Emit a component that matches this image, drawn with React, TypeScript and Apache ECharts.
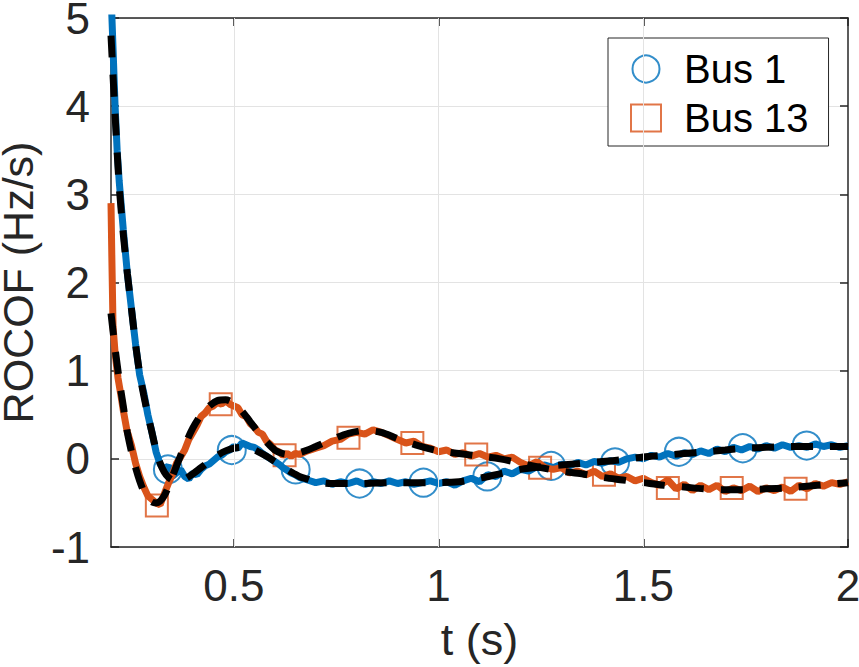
import React, { useEffect, useRef } from "react";
import * as echarts from "echarts";

// ---- data ----
const bus1X = [0.2, 0.21, 0.215, 0.22, 0.23, 0.24, 0.25, 0.26, 0.27, 0.28, 0.29, 0.3, 0.31, 0.32, 0.33, 0.34, 0.35, 0.36, 0.37, 0.38, 0.39, 0.4, 0.41, 0.42, 0.43, 0.44, 0.45, 0.46, 0.47, 0.48, 0.49, 0.5, 0.51, 0.52, 0.53, 0.54, 0.55, 0.56, 0.57, 0.58, 0.59, 0.6, 0.61, 0.62, 0.63, 0.64, 0.65, 0.66, 0.68, 0.7, 0.72, 0.74, 0.76, 0.78, 0.8, 0.82, 0.84, 0.86, 0.88, 0.9, 0.92, 0.94, 0.96, 0.98, 1.0, 1.02, 1.04, 1.06, 1.08, 1.1, 1.12, 1.14, 1.16, 1.18, 1.2, 1.22, 1.24, 1.26, 1.28, 1.3, 1.32, 1.34, 1.36, 1.38, 1.4, 1.42, 1.44, 1.46, 1.48, 1.5, 1.52, 1.54, 1.56, 1.58, 1.6, 1.62, 1.64, 1.66, 1.68, 1.7, 1.72, 1.74, 1.76, 1.78, 1.8, 1.82, 1.84, 1.86, 1.88, 1.9, 1.92, 1.94, 1.96, 1.98, 2.0];
const bus1Y = [5.3, 4.0, 3.5, 3.15, 2.6, 2.1, 1.7, 1.3, 0.95, 0.75, 0.5, 0.3, 0.08, -0.06, -0.12, -0.08, -0.2, -0.16, -0.12, -0.2, -0.23, -0.16, -0.18, -0.12, -0.08, -0.06, -0.02, 0.02, 0.04, 0.08, 0.1, 0.14, 0.12, 0.18, 0.16, 0.14, 0.13, 0.1, 0.06, 0.03, 0.0, -0.03, -0.06, -0.1, -0.13, -0.16, -0.18, -0.21, -0.24, -0.27, -0.25, -0.29, -0.26, -0.28, -0.25, -0.29, -0.26, -0.28, -0.25, -0.28, -0.26, -0.29, -0.27, -0.25, -0.28, -0.26, -0.3, -0.25, -0.22, -0.26, -0.18, -0.2, -0.14, -0.17, -0.12, -0.14, -0.09, -0.07, -0.1, -0.06, -0.08, -0.04, -0.07, -0.03, -0.05, -0.02, -0.04, 0.0, 0.02, 0.0, 0.04, 0.02, 0.06, 0.03, 0.07, 0.05, 0.09, 0.06, 0.11, 0.08, 0.13, 0.1, 0.14, 0.11, 0.15, 0.12, 0.16, 0.13, 0.15, 0.13, 0.17, 0.14, 0.16, 0.13, 0.15];

const bus13X = [0.2, 0.202, 0.205, 0.21, 0.217, 0.225, 0.23, 0.239, 0.25, 0.26, 0.27, 0.28, 0.29, 0.3, 0.31, 0.32, 0.33, 0.34, 0.35, 0.36, 0.37, 0.38, 0.39, 0.4, 0.41, 0.42, 0.43, 0.44, 0.45, 0.46, 0.47, 0.48, 0.49, 0.5, 0.51, 0.52, 0.53, 0.54, 0.55, 0.56, 0.57, 0.58, 0.59, 0.6, 0.61, 0.62, 0.63, 0.64, 0.65, 0.66, 0.68, 0.7, 0.72, 0.74, 0.76, 0.78, 0.8, 0.82, 0.84, 0.86, 0.88, 0.9, 0.92, 0.94, 0.96, 0.98, 1.0, 1.02, 1.04, 1.06, 1.08, 1.1, 1.12, 1.14, 1.16, 1.18, 1.2, 1.22, 1.24, 1.26, 1.28, 1.3, 1.32, 1.34, 1.36, 1.38, 1.4, 1.42, 1.44, 1.46, 1.48, 1.5, 1.52, 1.54, 1.56, 1.58, 1.6, 1.62, 1.64, 1.66, 1.68, 1.7, 1.72, 1.74, 1.76, 1.78, 1.8, 1.82, 1.84, 1.86, 1.88, 1.9, 1.92, 1.94, 1.96, 1.98, 2.0];
const bus13Y = [2.9, 2.3, 1.5, 1.2, 0.92, 0.7, 0.55, 0.32, 0.15, -0.05, -0.2, -0.32, -0.42, -0.46, -0.5, -0.52, -0.4, -0.28, -0.18, -0.05, 0.02, 0.1, 0.22, 0.3, 0.38, 0.48, 0.52, 0.58, 0.6, 0.64, 0.62, 0.66, 0.62, 0.6, 0.58, 0.5, 0.48, 0.4, 0.36, 0.3, 0.28, 0.2, 0.16, 0.1, 0.08, 0.04, 0.06, 0.03, 0.06, 0.05, 0.09, 0.12, 0.15, 0.2, 0.22, 0.28, 0.3, 0.28, 0.33, 0.3, 0.26, 0.22, 0.18, 0.2, 0.14, 0.12, 0.08, 0.1, 0.05, 0.07, 0.03, 0.06, 0.02, 0.04, 0.0, 0.02, -0.04, -0.08, -0.03, -0.1, -0.12, -0.1, -0.16, -0.14, -0.18, -0.14, -0.2, -0.17, -0.22, -0.2, -0.25, -0.22, -0.27, -0.3, -0.24, -0.34, -0.29, -0.36, -0.3, -0.35, -0.3, -0.37, -0.33, -0.36, -0.31, -0.37, -0.33, -0.36, -0.32, -0.37, -0.3, -0.34, -0.28, -0.31, -0.27, -0.29, -0.26];

const fit1X = [0.2, 0.21, 0.22, 0.23, 0.24, 0.25, 0.26, 0.27, 0.28, 0.29, 0.3, 0.31, 0.32, 0.33, 0.34, 0.35, 0.36, 0.38, 0.4, 0.42, 0.44, 0.46, 0.48, 0.5, 0.52, 0.54, 0.56, 0.58, 0.6, 0.62, 0.64, 0.66, 0.68, 0.7, 0.74, 0.8, 0.9, 1.0, 1.05, 1.1, 1.15, 1.2, 1.25, 1.3, 1.35, 1.4, 1.45, 1.5, 1.55, 1.6, 1.65, 1.7, 1.75, 1.8, 1.85, 1.9, 1.95, 2.0];
const fit1Y = [4.8, 3.9, 3.1, 2.55, 2.1, 1.7, 1.3, 0.97, 0.72, 0.5, 0.3, 0.1, -0.05, -0.15, -0.21, -0.24, -0.25, -0.23, -0.17, -0.1, -0.03, 0.04, 0.09, 0.12, 0.13, 0.12, 0.08, 0.03, -0.03, -0.09, -0.15, -0.2, -0.23, -0.26, -0.28, -0.28, -0.27, -0.27, -0.26, -0.22, -0.17, -0.12, -0.09, -0.07, -0.05, -0.03, -0.01, 0.02, 0.04, 0.06, 0.08, 0.1, 0.12, 0.13, 0.14, 0.14, 0.14, 0.14];

const fit13X = [0.2, 0.21, 0.22, 0.23, 0.24, 0.25, 0.26, 0.27, 0.28, 0.29, 0.3, 0.31, 0.32, 0.33, 0.34, 0.35, 0.36, 0.38, 0.4, 0.42, 0.44, 0.46, 0.48, 0.5, 0.52, 0.54, 0.56, 0.58, 0.6, 0.62, 0.64, 0.66, 0.68, 0.7, 0.74, 0.78, 0.82, 0.86, 0.9, 0.95, 1.0, 1.05, 1.1, 1.15, 1.2, 1.25, 1.3, 1.35, 1.4, 1.45, 1.5, 1.55, 1.6, 1.65, 1.7, 1.75, 1.8, 1.85, 1.9, 1.95, 2.0];
const fit13Y = [1.65, 1.25, 0.9, 0.6, 0.3, 0.08, -0.1, -0.25, -0.37, -0.45, -0.49, -0.5, -0.48, -0.42, -0.32, -0.2, -0.08, 0.15, 0.35, 0.5, 0.6, 0.66, 0.67, 0.63, 0.54, 0.42, 0.3, 0.19, 0.1, 0.06, 0.05, 0.07, 0.1, 0.14, 0.22, 0.29, 0.32, 0.3, 0.23, 0.15, 0.09, 0.06, 0.03, 0.0, -0.05, -0.1, -0.14, -0.17, -0.21, -0.24, -0.27, -0.3, -0.32, -0.34, -0.35, -0.35, -0.34, -0.33, -0.31, -0.29, -0.27];

const mark1X = [0.339, 0.495, 0.651, 0.807, 0.963, 1.119, 1.275, 1.431, 1.587, 1.743, 1.899];
const mark1Y = [-0.12, 0.1, -0.12, -0.28, -0.27, -0.2, -0.08, -0.04, 0.08, 0.12, 0.15];
const mark13X = [0.312, 0.468, 0.624, 0.78, 0.936, 1.092, 1.248, 1.404, 1.56, 1.716, 1.872];
const mark13Y = [-0.53, 0.62, 0.04, 0.24, 0.18, 0.05, -0.1, -0.18, -0.33, -0.33, -0.34];

const xTicks = [0.5, 1, 1.5, 2];
const xGridValues = [0.5, 1, 1.5];
const legendNames = ["Bus 1", "Bus 13"];

const BLUE = "#0072BD";
const ORANGE = "#D95319";
const AXIS = "#262626";
const GRID = "#e3e3e3";
const FONT = "Liberation Sans, Arial, Helvetica, sans-serif";

const zip = (xs: number[], ys: number[]) => xs.map((x, i) => [x, ys[i]]);

export default function App() {
  const ref = useRef<HTMLDivElement>(null);
  useEffect(() => {
    if (!ref.current) return;
    const chart = echarts.init(ref.current, null, { renderer: "svg" });
    const baseX = { type: "value", min: 0.2, max: 2 };
    const baseY = { type: "value", min: -1, max: 5, interval: 1 };
    chart.setOption({
      animation: false,
      backgroundColor: "#ffffff",
      grid: {
        left: 111,
        right: 11,
        top: 18,
        bottom: 120,
        containLabel: false,
        outerBoundsMode: "none",
      },
      legend: {
        data: legendNames,
        orient: "vertical",
        left: 608,
        top: 38,
        padding: [11, 20, 8, 22],
        itemGap: 9,
        itemWidth: 30,
        itemHeight: 27,
        backgroundColor: "#ffffff",
        borderColor: AXIS,
        borderWidth: 1,
        borderRadius: 0,
        textStyle: {
          fontFamily: FONT,
          fontSize: 40,
          color: "#000",
          lineHeight: 40,
          padding: [0, 0, 0, 18],
        },
      },
      xAxis: [
        {
          ...baseX,
          position: "bottom",
          name: "t (s)",
          nameLocation: "middle",
          nameGap: 70,
          nameTextStyle: { fontFamily: FONT, fontSize: 45, color: AXIS },
          axisLine: { show: true, onZero: false, lineStyle: { color: AXIS, width: 1.5 } },
          axisTick: {
            show: true,
            inside: true,
            length: 8,
            customValues: xTicks,
            lineStyle: { color: AXIS, width: 1.5 },
          },
          axisLabel: {
            fontFamily: FONT,
            fontSize: 44,
            color: AXIS,
            margin: 16,
            customValues: xTicks,
          },
          splitLine: { show: false },
        },
        {
          ...baseX,
          position: "top",
          axisLine: { show: true, onZero: false, lineStyle: { color: AXIS, width: 1.5 } },
          axisTick: {
            show: true,
            inside: true,
            length: 8,
            customValues: xTicks,
            lineStyle: { color: AXIS, width: 1.5 },
          },
          axisLabel: { show: false },
          splitLine: { show: false },
        },
      ],
      yAxis: [
        {
          ...baseY,
          position: "left",
          name: "ROCOF (Hz/s)",
          nameLocation: "middle",
          nameGap: 66,
          nameRotate: 90,
          nameTextStyle: { fontFamily: FONT, fontSize: 43, lineHeight: 38, color: AXIS },
          axisLine: { show: true, onZero: false, lineStyle: { color: AXIS, width: 1.5 } },
          axisTick: { show: true, inside: true, length: 8, lineStyle: { color: AXIS, width: 1.5 } },
          axisLabel: { fontFamily: FONT, fontSize: 44, lineHeight: 30, color: AXIS, margin: 21 },
          splitLine: { show: true, lineStyle: { color: GRID, width: 1 } },
        },
        {
          ...baseY,
          position: "right",
          axisLine: { show: true, onZero: false, lineStyle: { color: AXIS, width: 1.5 } },
          axisTick: { show: true, inside: true, length: 8, lineStyle: { color: AXIS, width: 1.5 } },
          axisLabel: { show: false },
          splitLine: { show: false },
        },
      ],
      series: [
        {
          name: "x grid",
          type: "line",
          data: [],
          silent: true,
          markLine: {
            silent: true,
            symbol: "none",
            label: { show: false },
            animation: false,
            lineStyle: { color: GRID, width: 1, type: "solid" },
            emphasis: { disabled: true },
            data: xGridValues.map((v) => ({ xAxis: v })),
          },
        },
        {
          name: "Bus 1 ROCOF",
          type: "line",
          data: zip(bus1X, bus1Y),
          showSymbol: false,
          clip: true,
          lineStyle: { color: BLUE, width: 7 },
        },
        {
          name: "Bus 13 ROCOF",
          type: "line",
          data: zip(bus13X, bus13Y),
          showSymbol: false,
          clip: true,
          lineStyle: { color: ORANGE, width: 7 },
        },
        {
          name: "Bus 1",
          type: "scatter",
          data: zip(mark1X, mark1Y),
          symbol: "circle",
          symbolSize: 28,
          itemStyle: { color: "rgba(255,255,255,0)", borderColor: BLUE, borderWidth: 2 },
        },
        {
          name: "Bus 13",
          type: "scatter",
          data: zip(mark13X, mark13Y),
          symbol: "rect",
          symbolSize: 22,
          itemStyle: { color: "rgba(255,255,255,0)", borderColor: ORANGE, borderWidth: 2 },
        },
        {
          name: "Bus 1 fit",
          type: "line",
          data: zip(fit1X, fit1Y),
          showSymbol: false,
          smooth: 0.3,
          clip: true,
          lineStyle: { color: "#000", width: 7, type: [22, 17], cap: "butt" },
        },
        {
          name: "Bus 13 fit",
          type: "line",
          data: zip(fit13X, fit13Y),
          showSymbol: false,
          smooth: 0.3,
          clip: true,
          lineStyle: { color: "#000", width: 7, type: [22, 17], cap: "butt" },
        },
      ],
    });
    return () => chart.dispose();
  }, []);
  return (
    <div
      ref={ref}
      style={{ position: "absolute", left: 0, top: 0, width: 859, height: 667 }}
    />
  );
}
